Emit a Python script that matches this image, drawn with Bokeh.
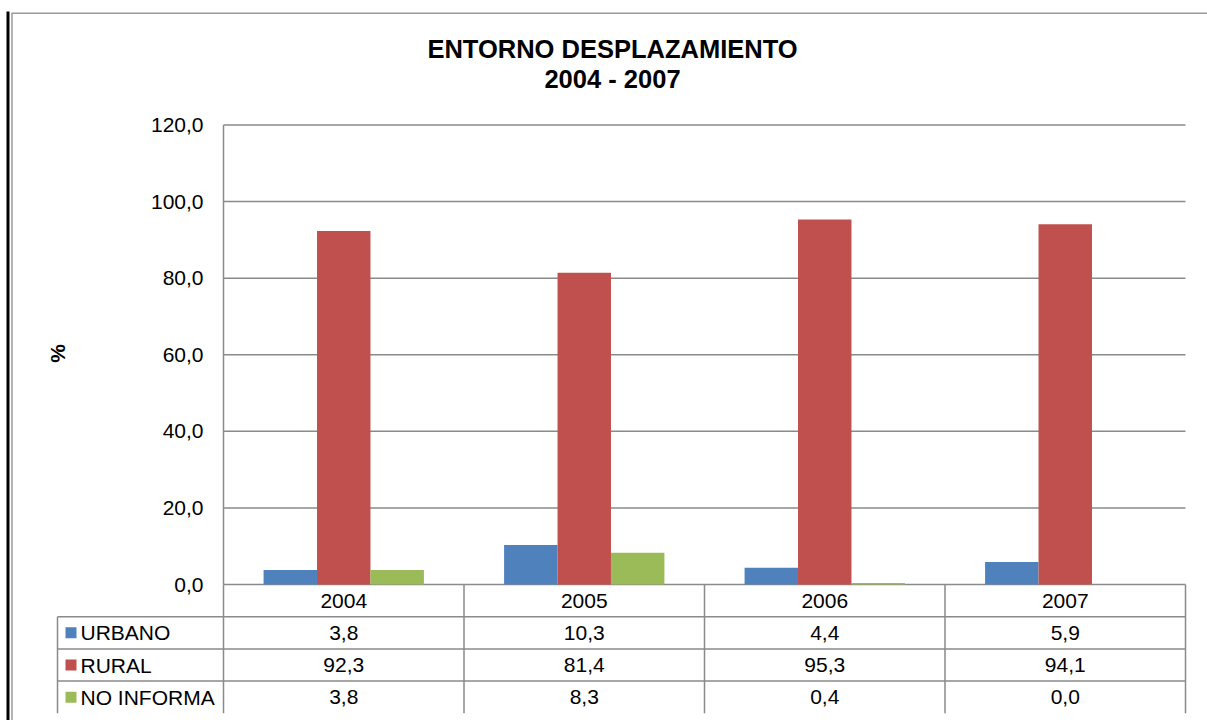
import math
from bokeh.plotting import figure
from bokeh.models import Range1d
from bokeh.core.properties import value
from bokeh.embed import file_html
from bokeh.resources import INLINE

# ---- data ----
years = ["2004", "2005", "2006", "2007"]
series_names = ["URBANO", "RURAL", "NO INFORMA"]
urbano = [3.8, 10.3, 4.4, 5.9]
rural = [92.3, 81.4, 95.3, 94.1]
no_informa = [3.8, 8.3, 0.4, 0.0]
series_colors = ["#4F81BD", "#C0504D", "#9BBB59"]
y_ticks = [0, 20, 40, 60, 80, 100, 120]
title_lines = ["ENTORNO DESPLAZAMIENTO", "2004 - 2007"]
axis_title = "%"

def fmt(v):
    return f"{v:.1f}".replace(".", ",")

tick_labels = [fmt(t) for t in y_ticks]

# ---- layout (pixels within the figure) ----
W, H = 1207, 720
X0_PX = 223.0      # left edge of the category area
CAT_PX = 240.5     # width of one category
Y0_PX = 584.0      # value 0 measured from top
VAL_PX = 459.5 / 120.0
ROW_PX = 32.2
FONT = value("Liberation Sans")
GRID = "#8a8a8a"

def px_x(px):
    return (px - X0_PX) / CAT_PX

def px_y(py):
    return (Y0_PX - py) / VAL_PX

p = figure(width=W, height=H, output_backend="svg", toolbar_location=None, tools="",
           x_range=Range1d(px_x(0), px_x(W)), y_range=Range1d(px_y(H), px_y(0)),
           x_axis_type=None, y_axis_type=None, min_border=0)
p.extra_y_ranges = {"tbl": Range1d(start=(H - Y0_PX) / ROW_PX, end=-Y0_PX / ROW_PX)}
p.outline_line_color = None
p.background_fill_color = "white"
p.border_fill_color = "white"
p.xgrid.visible = False
p.ygrid.visible = False

n = len(years)
label_left = px_x(57)

# outer chart borders (left and top)
p.line(x=[px_x(7.5), px_x(7.5)], y=[px_y(11), px_y(H + 5)], line_color="black", line_width=3)
p.line(x=[px_x(11.5), px_x(11.5)], y=[px_y(H + 5), px_y(12.5)],
       line_color="#9a9a9a", line_width=1.5)
p.quad(left=[px_x(11)], right=[px_x(W)], top=[px_y(12)], bottom=[px_y(13.5)],
       fill_color="#9a9a9a", line_color=None)

# gridlines
p.segment(x0=[0] * len(y_ticks), y0=y_ticks, x1=[n] * len(y_ticks), y1=y_ticks,
          line_color=GRID, line_width=1.5)
# value axis line
p.segment(x0=[0], y0=[0], x1=[0], y1=[y_ticks[-1]], line_color=GRID, line_width=1.5)

# tick labels
p.text(x=[0] * len(y_ticks), y=y_ticks, text=tick_labels, x_offset=-20,
       text_align="right", text_baseline="middle", text_font=FONT,
       text_font_size="21px", text_color="black")

# bars
bar_w = 1 / 4.5
all_vals = [urbano, rural, no_informa]
for s, (vals, col) in enumerate(zip(all_vals, series_colors)):
    xs = [i + 0.5 + (s - 1) * bar_w for i in range(n)]
    p.vbar(x=xs, top=vals, bottom=0, width=bar_w, fill_color=col, line_color=None)

# data table
nrows = len(series_names) + 1
p.segment(x0=[label_left] * (nrows - 1), y0=list(range(1, nrows)),
          x1=[n] * (nrows - 1), y1=list(range(1, nrows)),
          line_color=GRID, line_width=1.5, y_range_name="tbl")
p.segment(x0=list(range(n + 1)), y0=[0] * (n + 1), x1=list(range(n + 1)), y1=[nrows] * (n + 1),
          line_color=GRID, line_width=1.5, y_range_name="tbl")
p.segment(x0=[label_left], y0=[1], x1=[label_left], y1=[nrows],
          line_color=GRID, line_width=1.5, y_range_name="tbl")

p.text(x=[i + 0.5 for i in range(n)], y=[0.5] * n, text=years, text_align="center",
       text_baseline="middle", text_font=FONT, text_font_size="21px", text_color="black",
       y_range_name="tbl")
for r, (name, vals, col) in enumerate(zip(series_names, all_vals, series_colors)):
    yc = r + 1.5
    p.rect(x=[label_left + 13.5 / CAT_PX], y=[yc], width=11, height=11,
           width_units="screen", height_units="screen", fill_color=col, line_color=None,
           y_range_name="tbl")
    p.text(x=[label_left], y=[yc], text=[name], x_offset=23, text_align="left",
           text_baseline="middle", text_font=FONT, text_font_size="21px",
           text_color="black", y_range_name="tbl")
    p.text(x=[i + 0.5 for i in range(n)], y=[yc] * n, text=[fmt(v) for v in vals],
           text_align="center", text_baseline="middle", text_font=FONT,
           text_font_size="21px", text_color="black", y_range_name="tbl")

# titles
p.text(x=[px_x(612)] * 2, y=[px_y(48), px_y(78.5)], text=title_lines, text_align="center",
       text_baseline="middle", text_font=FONT, text_font_size="25.5px",
       text_font_style="bold", text_color="black")
p.text(x=[px_x(57)], y=[px_y(353)], text=[axis_title], angle=math.pi / 2,
       text_align="center", text_baseline="middle", text_font=FONT,
       text_font_size="21px", text_font_style="bold", text_color="black")

open("out.html", "w").write(file_html(p, INLINE))
